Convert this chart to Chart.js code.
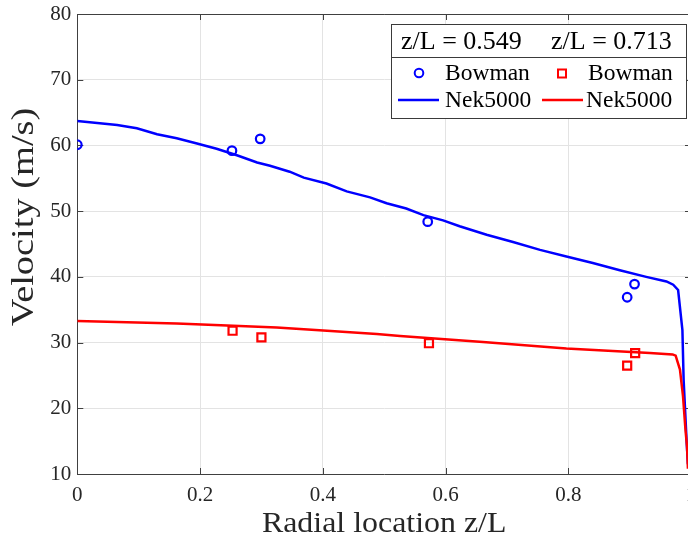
<!DOCTYPE html>
<html><head><meta charset="utf-8">
<script src="https://cdn.jsdelivr.net/npm/chart.js@4.4.1/dist/chart.umd.min.js"></script>
<style>html,body{margin:0;padding:0;overflow:hidden;background:#fff;width:688px;height:542px}</style>
</head><body>
<canvas id="c" width="700" height="542" style="width:700px;height:542px;display:block"></canvas>
<script>
// ---- data ----
const xTickValues = [0, 0.2, 0.4, 0.6, 0.8, 1];
const yTickValues = [10, 20, 30, 40, 50, 60, 70, 80];

const bowmanX549 = [0, 0.252, 0.298, 0.571, 0.896, 0.908];
const bowmanV549 = [60.1, 59.2, 61.0, 48.4, 36.9, 38.9];
const bowmanX713 = [0.253, 0.300, 0.573, 0.896, 0.909];
const bowmanV713 = [31.8, 30.8, 29.9, 26.5, 28.4];

const nekX549 = [0, 0.065, 0.097, 0.130, 0.162, 0.195, 0.227, 0.260, 0.293, 0.314, 0.346, 0.369, 0.406, 0.439, 0.477, 0.504, 0.536, 0.564, 0.596, 0.623, 0.667, 0.710, 0.754, 0.797, 0.840, 0.884, 0.927, 0.960, 0.971, 0.979, 0.986, 0.988, 0.993, 0.995];
const nekV549 = [63.7, 63.1, 62.6, 61.7, 61.1, 60.3, 59.5, 58.5, 57.4, 56.9, 56.0, 55.1, 54.2, 53.0, 52.1, 51.2, 50.4, 49.4, 48.6, 47.7, 46.4, 45.3, 44.1, 43.1, 42.1, 41.0, 40.0, 39.3, 38.8, 38.0, 31.9, 24.3, 14.7, 11.5];

const nekX713 = [0, 0.081, 0.162, 0.244, 0.325, 0.407, 0.488, 0.526, 0.661, 0.797, 0.933, 0.970, 0.975, 0.982, 0.987, 0.991, 0.9935, 0.995];
const nekV713 = [33.3, 33.1, 32.9, 32.6, 32.3, 31.8, 31.3, 31.0, 30.1, 29.1, 28.4, 28.2, 28.0, 25.9, 21.8, 16.7, 14.2, 10.8];

const xTitle = 'Radial location z/L';
const yTitle = 'Velocity (m/s)';
const legendTitle549 = 'z/L = 0.549';
const legendTitle713 = 'z/L = 0.713';
const legendBowman = 'Bowman';
const legendNek = 'Nek5000';

const BLUE = '#0000ff', RED = '#ff0000';
const toPts = (xs, ys) => xs.map((x, i) => ({x: x, y: ys[i]}));

const AXIS = '#404040';
const SERIF = '"Liberation Serif", "Times New Roman", serif';

function stretchedText(ctx, text, cx, cy, font, sx, rot) {
  ctx.save();
  ctx.translate(cx, cy);
  if (rot) ctx.rotate(rot);
  ctx.scale(sx, 1);
  ctx.font = font;
  ctx.textAlign = 'center';
  ctx.textBaseline = 'middle';
  ctx.fillText(text, 0, 0);
  ctx.restore();
}

// frame + inward ticks + axis titles + legend
const framePlugin = {
  id: 'frame',
  beforeDatasetsDraw(chart) {
    const {ctx, chartArea: a} = chart;
    const xs = chart.scales.x, ys = chart.scales.y;
    ctx.save();
    ctx.strokeStyle = AXIS; ctx.lineWidth = 1;
    ctx.beginPath();
    ctx.moveTo(a.left, Math.round(a.top) + 0.5); ctx.lineTo(a.right, Math.round(a.top) + 0.5);
    ctx.moveTo(Math.round(a.right) + 0.5, a.top); ctx.lineTo(Math.round(a.right) + 0.5, a.bottom);
    xTickValues.forEach(v => {
      const px = Math.round(xs.getPixelForValue(v)) + 0.5;
      ctx.moveTo(px, a.bottom); ctx.lineTo(px, a.bottom - 6);
      ctx.moveTo(px, a.top); ctx.lineTo(px, a.top + 6);
    });
    yTickValues.forEach(v => {
      const py = Math.round(ys.getPixelForValue(v)) + 0.5;
      ctx.moveTo(a.left, py); ctx.lineTo(a.left + 6, py);
      ctx.moveTo(a.right, py); ctx.lineTo(a.right - 6, py);
    });
    ctx.stroke();
    ctx.fillStyle = '#262626';
    stretchedText(ctx, xTitle, (a.left + a.right) / 2, 524, '29px ' + SERIF, 1.1, 0);
    stretchedText(ctx, yTitle, 25, 217, '32px ' + SERIF, 1.2, -Math.PI / 2);
    ctx.restore();
  },
  afterDraw(chart) {
    const {ctx} = chart;
    const L = 391.5, T = 24.5, R = 686.5, B = 118.5, D = 57.5;
    ctx.save();
    ctx.fillStyle = '#fff';
    ctx.fillRect(L, T, R - L, B - T);
    ctx.strokeStyle = '#3a3a3a'; ctx.lineWidth = 1;
    ctx.strokeRect(L, T, R - L, B - T);
    ctx.beginPath(); ctx.moveTo(L, D); ctx.lineTo(R, D); ctx.stroke();
    ctx.fillStyle = '#000';
    ctx.textBaseline = 'middle'; ctx.textAlign = 'left';
    ctx.font = '26px ' + SERIF;
    ctx.fillText(legendTitle549, 401, 42);
    ctx.fillText(legendTitle713, 551, 42);
    ctx.font = '23.5px ' + SERIF;
    ctx.fillText(legendBowman, 445, 74);
    ctx.fillText(legendBowman, 588, 74);
    ctx.fillText(legendNek, 445, 101);
    ctx.fillText(legendNek, 586, 101);
    // markers
    ctx.lineWidth = 2;
    ctx.strokeStyle = BLUE;
    ctx.beginPath(); ctx.arc(419, 73, 4.3, 0, Math.PI * 2); ctx.stroke();
    ctx.strokeStyle = RED;
    ctx.strokeRect(558, 69.5, 8, 8);
    ctx.lineWidth = 2.5;
    ctx.strokeStyle = BLUE;
    ctx.beginPath(); ctx.moveTo(398, 100); ctx.lineTo(439, 100); ctx.stroke();
    ctx.strokeStyle = RED;
    ctx.beginPath(); ctx.moveTo(542, 100); ctx.lineTo(583, 100); ctx.stroke();
    ctx.restore();
  }
};

new Chart(document.getElementById('c'), {
  type: 'scatter',
  data: {
    datasets: [
      {label: 'Bowman 0.549', data: toPts(bowmanX549, bowmanV549), pointStyle: 'circle', pointRadius: 4.3, pointBorderWidth: 2.2, borderColor: BLUE, backgroundColor: 'rgba(0,0,0,0)', showLine: false, order: 0},
      {label: 'Bowman 0.713', data: toPts(bowmanX713, bowmanV713), pointStyle: 'rect', pointRadius: 5.7, pointBorderWidth: 2.2, borderColor: RED, backgroundColor: 'rgba(0,0,0,0)', showLine: false, order: 1},
      {label: 'Nek5000 0.713', data: toPts(nekX713, nekV713), showLine: true, pointRadius: 0, borderColor: RED, borderWidth: 2.5, tension: 0, order: 2},
      {label: 'Nek5000 0.549', data: toPts(nekX549, nekV549), showLine: true, pointRadius: 0, borderColor: BLUE, borderWidth: 2.5, tension: 0, order: 3}
    ]
  },
  options: {
    responsive: false,
    animation: false,
    events: [],
    layout: {padding: {left: 0, top: 14, right: 9, bottom: 0}},
    plugins: {legend: {display: false}, tooltip: {enabled: false}},
    scales: {
      x: {
        type: 'linear', min: 0, max: 1,
        afterBuildTicks: s => { s.ticks = xTickValues.map(v => ({value: v})); },
        afterFit: s => { s.height = 68; s.paddingLeft = 0; s.paddingRight = 0; },
        grid: {color: '#e3e3e3', drawTicks: false, lineWidth: 1},
        border: {color: AXIS, width: 1},
        ticks: {color: '#262626', padding: 9, maxRotation: 0, font: {family: SERIF, size: 21}, callback: v => String(v)},
        title: {display: false}
      },
      y: {
        type: 'linear', min: 10, max: 80,
        afterBuildTicks: s => { s.ticks = yTickValues.map(v => ({value: v})); },
        afterFit: s => { s.width = 77.3; s.paddingTop = 0; s.paddingBottom = 0; },
        grid: {color: '#e3e3e3', drawTicks: false, lineWidth: 1},
        border: {color: AXIS, width: 1},
        ticks: {color: '#262626', padding: 6, font: {family: SERIF, size: 21}, callback: v => String(v)},
        title: {display: false}
      }
    }
  },
  plugins: [framePlugin]
});
</script>
</body></html>
